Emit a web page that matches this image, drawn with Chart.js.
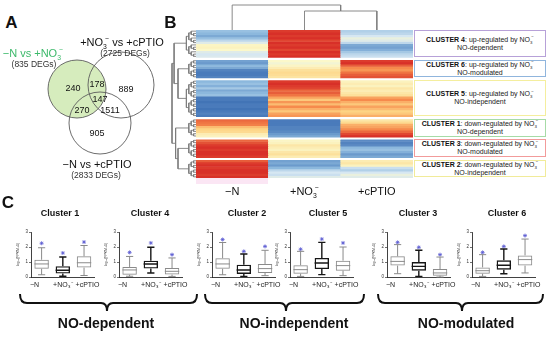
<!DOCTYPE html>
<html>
<head>
<meta charset="utf-8">
<script src="https://cdn.jsdelivr.net/npm/chart.js"></script>
<style>
  body { margin: 0; width: 550px; height: 338px; overflow: hidden; position: relative; background: #fff;
         font-family: "Liberation Sans", Arial, sans-serif; color: #111; }
  canvas { position: absolute; }
  .t { position: absolute; white-space: nowrap; line-height: 1; transform: translate(-50%, -50%); }
  sub, sup { font-size: 0.62em; line-height: 0; }
  sup { margin-left: -0.25em; }
  .note { position: absolute; box-sizing: border-box; border: 1.3px solid; background: #fff;
          display: flex; flex-direction: column; justify-content: center; align-items: center;
          font-size: 7px; line-height: 8px; white-space: nowrap; color: #222; }
  .note b { color: #111; }
</style>
</head>
<body>
<script>
// ---------- panel A : Venn ----------
const vennSets = ['−N vs +NO3', '+NO3 vs +cPTIO', '−N vs +cPTIO'];
const vennSetSizes = [835, 2725, 2833];
const vennCounts = [240, 178, 889, 147, 270, 1511, 905]; // A, AB, B, ABC, AC, BC, C

// ---------- panel B : heatmap, rows = [−N, +NO3, +cPTIO] z-scores ----------
const heatColumns = ['−N', '+NO₃⁻', '+cPTIO'];
const heatClusterOrder = [4, 6, 5, 1, 3, 2];
const heatC4 = [[-0.9,1.9,-0.7],[-1.0,2.0,-0.6],[-1.2,1.9,-0.4],[-0.9,2.0,-0.2],[-0.6,1.8,-0.3],[-0.3,2.0,-0.6],
                [0.05,1.9,-1.2],[0.1,2.0,-1.3],[0.0,1.8,-1.1],[-0.3,2.0,-0.8],[-0.4,1.9,-0.6],[-0.35,2.0,-0.5]];
const heatC6 = [[-1.3,0.0,1.9],[-1.4,-0.1,2.0],[-1.0,0.05,1.6],[-1.2,0.2,1.2],[-1.7,0.4,1.1],[-1.8,0.5,1.4],
                [-1.8,0.45,1.6],[-1.7,0.35,1.7]];
const heatC5 = [[-1.0,1.9,0.1],[-0.9,2.0,0.2],[-1.1,1.9,0.1],[-0.8,1.8,0.3],[-1.2,1.5,0.2],[-1.0,1.6,0.3],
                [-0.9,1.4,0.4],[-1.8,1.0,1.0],[-1.8,0.7,1.2],[-1.9,1.1,0.9],[-1.8,0.8,0.7],[-1.8,1.2,1.0],
                [-1.9,0.9,0.8],[-1.8,0.7,0.6],[-1.7,1.0,0.7],[-1.8,1.1,0.9]];
const heatC1 = [[1.5,-1.8,0.3],[1.4,-1.8,0.5],[1.3,-1.8,0.9],[0.8,-1.7,1.0],[0.6,-1.7,1.2],[0.5,-1.6,1.5],
                [0.2,-1.4,1.8],[0.1,-1.2,2.0]];
const heatC3 = [[1.5,0.05,-1.6],[1.7,0.1,-1.7],[1.9,0.3,-1.6],[2.0,0.2,-1.0],[1.9,0.1,-0.9],[2.0,0.3,-1.1],
                [2.0,0.4,-1.4],[1.9,0.2,-1.2]];
const heatC2 = [[1.6,-1.3,0.2],[1.9,-1.2,0.3],[2.0,-1.4,0.1],[1.9,-1.0,-0.5],[2.0,-0.6,-0.7],[2.0,-0.4,-0.4],
                [1.9,-0.5,-0.2],[2.0,-0.3,-0.3]];
const clusterNotes = { 4: ['up', 'NO-dependent'], 6: ['up', 'NO-modulated'], 5: ['up', 'NO-independent'],
                       1: ['down', 'NO-dependent'], 3: ['down', 'NO-modulated'], 2: ['down', 'NO-independent'] };
// dendrogram merge heights
const rowTree = { h: 8, kids: [{ h: 7.3, kids: [4, { h: 6, kids: [6, 5] }] }, { h: 6.8, kids: [1, { h: 6, kids: [3, 2] }] }] };
const colTree = { h: 2.5, kids: [0, { h: 1.9, kids: [1, 2] }] };

// ---------- panel C : box plots [low whisker, q1, median, q3, high whisker] ----------
const boxConditions = ['−N', '+NO₃⁻', '+cPTIO'];
const boxPanels = [1, 4, 2, 5, 3, 6];
const box1 = [[0.15,0.55,0.87,1.15,1.95],[0.05,0.23,0.45,0.72,1.33],[0.10,0.63,0.95,1.38,2.10]];
const box4 = [[0.05,0.15,0.47,0.67,1.37],[0.27,0.56,0.87,1.09,1.98],[0.04,0.16,0.38,0.60,1.27]];
const box2 = [[0.15,0.55,0.87,1.25,2.30],[0.04,0.20,0.47,0.82,1.53],[0.09,0.27,0.56,0.87,1.78]];
const box5 = [[0.04,0.22,0.49,0.78,1.71],[0.16,0.53,0.93,1.27,2.31],[0.09,0.42,0.76,1.09,2.00]];
const box3 = [[0.22,0.76,1.04,1.38,2.16],[0.04,0.42,0.71,1.00,1.78],[0.00,0.09,0.27,0.53,1.33]];
const box6 = [[0.04,0.22,0.42,0.64,1.49],[0.22,0.49,0.78,1.11,1.87],[0.27,0.76,1.16,1.44,2.53]];
const stars1 = [2.25, 1.60, 2.33];
const stars4 = [1.64, 2.27, 1.49];
const stars2 = [2.50, 1.71, 2.04];
const stars5 = [1.85, 2.53, 2.27];
const stars3 = [2.31, 1.98, 1.49];
const stars6 = [1.64, 2.04, 2.76];
const groupNames = ['NO-dependent', 'NO-independent', 'NO-modulated'];

// ---------------------------------------------------------------
Chart.defaults.animation = false;
Chart.defaults.responsive = false;
Chart.defaults.events = [];
Chart.defaults.layout.autoPadding = false;
Chart.defaults.plugins.legend.display = false;
Chart.defaults.plugins.tooltip.enabled = false;
Chart.defaults.font.family = '"Liberation Sans", Arial, sans-serif';

function mkCanvas(left, top, w, h) {
  const c = document.createElement('canvas');
  c.width = w; c.height = h;
  c.style.left = left + 'px'; c.style.top = top + 'px';
  document.body.appendChild(c);
  return c;
}
function txt(html, x, y, css) {
  const d = document.createElement('div');
  d.className = 't'; d.innerHTML = html;
  d.style.left = x + 'px'; d.style.top = y + 'px';
  if (css) d.style.cssText += css;
  document.body.appendChild(d);
  return d;
}
const NO3 = 'NO<sub>3</sub><sup>−</sup>';

// ---------- A ----------
txt('A', 11.5, 21.5, 'font-weight:bold;font-size:17px');
const vennLayout = [{ x: 77, y: 89, r: 29 }, { x: 121, y: 85, r: 33 }, { x: 100, y: 123, r: 31 }];
const vennLabelPos = [[73, 88], [97, 84], [126, 89], [100, 99], [82, 110], [110, 110], [97, 133]];
const venn = new Chart(mkCanvas(0, 0, 165, 185), {
  type: 'bubble',
  data: { datasets: vennSets.map((name, i) => ({
    label: name,
    data: [{ x: vennLayout[i].x, y: vennLayout[i].y, r: vennLayout[i].r }],
    backgroundColor: i === 0 ? '#d6ecbd' : 'rgba(0,0,0,0)',
    borderColor: '#5c5c5c', borderWidth: 0.9, order: i === 0 ? 1 : 0, clip: false
  })) },
  options: { layout: { padding: 0 },
    scales: { x: { display: false, min: 0, max: 165 }, y: { display: false, min: 0, max: 185, reverse: true } } }
});
vennCounts.forEach((n, i) => {
  txt(String(n), venn.scales.x.getPixelForValue(vennLabelPos[i][0]),
      venn.scales.y.getPixelForValue(vennLabelPos[i][1]), 'font-size:9px');
});
txt('−N vs +' + NO3, 33, 53, 'font-size:11px;color:#3cb96a');
txt('(' + vennSetSizes[0] + ' DEGs)', 34, 64, 'font-size:8.5px;color:#333');
txt('+' + NO3 + ' vs +cPTIO', 122, 42, 'font-size:11px');
txt('(' + vennSetSizes[1] + ' DEGs)', 125, 53, 'font-size:8.5px;color:#333');
txt('−N vs +cPTIO', 97, 164, 'font-size:11px');
txt('(' + vennSetSizes[2] + ' DEGs)', 96, 175, 'font-size:8.5px;color:#333');

// ---------- B ----------
txt('B', 170.5, 22, 'font-weight:bold;font-size:17px');
const heatStops = [[-2, [58, 108, 178]], [-1, [140, 184, 221]], [-0.4, [214, 231, 242]], [0, [251, 248, 202]],
                   [0.6, [253, 212, 132]], [1.2, [246, 138, 76]], [2, [216, 48, 40]]];
function zColor(z) {
  z = Math.max(-2, Math.min(2, z));
  for (let i = 1; i < heatStops.length; i++) {
    const [z1, c1] = heatStops[i], [z0, c0] = heatStops[i - 1];
    if (z <= z1) {
      const f = (z - z0) / (z1 - z0);
      return 'rgb(' + c0.map((v, k) => Math.round(v + (c1[k] - v) * f)).join(',') + ')';
    }
  }
}
const heatByCluster = { 4: heatC4, 6: heatC6, 5: heatC5, 1: heatC1, 3: heatC3, 2: heatC2 };
const GAP = 0.9;
const heatSets = [], spans = [];
let units = 0;
heatClusterOrder.forEach((c, gi) => {
  if (gi > 0) { heatSets.push({ data: [GAP, GAP, GAP], backgroundColor: '#ffffff' }); units += GAP; }
  spans.push({ cluster: c, start: units, n: heatByCluster[c].length });
  heatByCluster[c].forEach(r => { heatSets.push({ data: [1, 1, 1], backgroundColor: r.map(zColor) }); units += 1; });
});
const HX = 196, HY = 30, HW = 217, HH = 148;
const heat = new Chart(mkCanvas(HX, HY, HW, HH), {
  type: 'bar',
  data: { labels: heatColumns, datasets: heatSets.map(d => ({ ...d, borderWidth: 0, barPercentage: 1, categoryPercentage: 1 })) },
  options: { layout: { padding: 0 },
    scales: { x: { display: false, stacked: true }, y: { display: false, stacked: true, min: 0, max: units, reverse: true } } }
});
// pink strip under −N column
const pk = document.createElement('div');
pk.style.cssText = 'position:absolute;left:196px;top:178px;width:72px;height:6px;background:#fbe6f4';
document.body.appendChild(pk);
heatColumns.forEach((c, i) => {
  const lab = i === 1 ? '+' + NO3 : c;
  txt(lab, HX + heat.scales.x.getPixelForValue(i), 191, 'font-size:11px');
});

// dendrograms
function linkSets(links) {
  return links.map(pts => ({ data: pts, showLine: true, pointRadius: 0, borderColor: '#7d7d7d',
                             borderWidth: 0.9, fill: false, clip: false }));
}
const rowLinks = [];
function rowSub(start, n) {
  if (n === 1) return { y: start + 0.5, h: 0 };
  const a = Math.floor(n / 2);
  const l = rowSub(start, a), r = rowSub(start + a, n - a);
  const h = Math.ceil(Math.log2(n)) * 0.8;
  rowLinks.push([{ x: l.h, y: l.y }, { x: h, y: l.y }, { x: h, y: r.y }, { x: r.h, y: r.y }]);
  return { y: (l.y + r.y) / 2, h };
}
const groupNode = {};
spans.forEach(s => { groupNode[s.cluster] = rowSub(s.start, s.n); });
function rowUp(node) {
  if (typeof node === 'number') return groupNode[node];
  const [l, r] = node.kids.map(rowUp);
  rowLinks.push([{ x: l.h, y: l.y }, { x: node.h, y: l.y }, { x: node.h, y: r.y }, { x: r.h, y: r.y }]);
  return { y: (l.y + r.y) / 2, h: node.h };
}
rowUp(rowTree);
new Chart(mkCanvas(160, HY, 36, HH), {
  type: 'scatter',
  data: { datasets: linkSets(rowLinks) },
  options: { layout: { padding: 0 },
    scales: { x: { type: 'linear', display: false, min: 0, max: 12, reverse: true },
              y: { type: 'linear', display: false, min: 0, max: units, reverse: true } } }
});
const colLinks = [];
function colUp(node) {
  if (typeof node === 'number') return { x: node, h: 0 };
  const [l, r] = node.kids.map(colUp);
  colLinks.push([{ x: l.x, y: l.h }, { x: l.x, y: node.h }, { x: r.x, y: node.h }, { x: r.x, y: r.h }]);
  return { x: (l.x + r.x) / 2, h: node.h };
}
colUp(colTree);
new Chart(mkCanvas(HX, 0, HW, HY), {
  type: 'scatter',
  data: { datasets: linkSets(colLinks) },
  options: { layout: { padding: 0 },
    scales: { x: { type: 'linear', display: false, min: -0.5, max: 2.5 },
              y: { type: 'linear', display: false, min: 0, max: 3 } } }
});

// cluster notes
const noteColors = { 4: '#b7a1d8', 6: '#90b5dd', 5: '#f4ee9e', 1: '#a6dba6', 3: '#f29b9b', 2: '#f1eb9a' };
spans.forEach(s => {
  const y0 = heat.scales.y.getPixelForValue(s.start), y1 = heat.scales.y.getPixelForValue(s.start + s.n);
  const d = document.createElement('div');
  d.className = 'note';
  d.style.cssText += 'left:414px;width:132px;top:' + (HY + y0) + 'px;height:' + (y1 - y0 - 0.5) +
                     'px;border-color:' + noteColors[s.cluster];
  const [dir, kind] = clusterNotes[s.cluster];
  d.innerHTML = '<div><b>CLUSTER ' + s.cluster + '</b>: ' + dir + '-regulated by ' + NO3 + '</div><div>' + kind + '</div>';
  document.body.appendChild(d);
});

// ---------- C ----------
txt('C', 8, 202, 'font-weight:bold;font-size:17px');
const boxByCluster = { 1: box1, 4: box4, 2: box2, 5: box5, 3: box3, 6: box6 };
const starsByCluster = { 1: stars1, 4: stars4, 2: stars2, 5: stars5, 3: stars3, 6: stars6 };
const boxAxisX = [31, 119, 212, 290, 387, 472];
const boxTitleX = [60, 150, 247, 328, 418, 507];
const condColor = ['#8a8a8a', '#161616', '#8a8a8a'];
const condWidth = [1, 1.4, 1];
// em-space padding nudges outer labels apart, as in the original layout
const tickPad = ['\u2003\u2003', '', '\u2003'];

const whiskers = {
  id: 'whiskers',
  afterDatasetsDraw(chart) {
    const stats = chart.data.datasets[0].stats, meta = chart.getDatasetMeta(0), y = chart.scales.y, ctx = chart.ctx;
    stats.forEach((s, i) => {
      const x = meta.data[i].x, w = meta.data[i].width;
      ctx.save();
      ctx.strokeStyle = condColor[i]; ctx.lineWidth = condWidth[i];
      ctx.beginPath();
      ctx.moveTo(x, y.getPixelForValue(s[3])); ctx.lineTo(x, y.getPixelForValue(s[4]));
      ctx.moveTo(x, y.getPixelForValue(s[1])); ctx.lineTo(x, y.getPixelForValue(s[0]));
      ctx.moveTo(x - w * 0.25, y.getPixelForValue(s[4])); ctx.lineTo(x + w * 0.25, y.getPixelForValue(s[4]));
      ctx.moveTo(x - w * 0.25, y.getPixelForValue(s[0])); ctx.lineTo(x + w * 0.25, y.getPixelForValue(s[0]));
      ctx.moveTo(x - w / 2, y.getPixelForValue(s[2])); ctx.lineTo(x + w / 2, y.getPixelForValue(s[2]));
      ctx.stroke();
      ctx.restore();
    });
  }
};

boxPanels.forEach((c, i) => {
  const stats = boxByCluster[c];
  new Chart(mkCanvas(boxAxisX[i] - 15, 228, 88, 63), {
    type: 'bar',
    data: { labels: boxConditions, datasets: [
      { data: stats.map(s => [s[1], s[3]]), stats: stats, backgroundColor: 'rgba(255,255,255,0)',
        borderColor: condColor, borderWidth: condWidth, borderSkipped: false,
        barPercentage: 0.68, categoryPercentage: 1, order: 1 },
      { type: 'line', data: starsByCluster[c], showLine: false, pointStyle: 'star', pointRadius: 2,
        borderColor: '#5a5ad2', borderWidth: 0.8, order: 0 }
    ] },
    options: {
      layout: { padding: { top: 4, right: 3, left: 0, bottom: 0 } },
      scales: {
        x: { grid: { drawOnChartArea: false, drawTicks: false }, border: { color: '#111', width: 0.8 },
             ticks: { font: { size: 7 }, color: '#222', padding: 4, maxRotation: 0, autoSkip: false,
                      callback: (v, k) => k === 0 ? boxConditions[k] + tickPad[k] : tickPad[k] + boxConditions[k] },
             afterFit: s => { s.height = 14; } },
        y: { min: 0, max: 3, grid: { drawOnChartArea: false, tickLength: 2, color: '#111', lineWidth: 0.6 },
             border: { color: '#111', width: 0.8 },
             ticks: { stepSize: 1, font: { size: 4.5 }, color: '#333', padding: 1 },
             title: { display: true, text: 'log₁₀(FPKM+1)', font: { size: 3.5 }, color: '#333', padding: 0 },
             afterFit: s => { s.width = 15; } }
      }
    },
    plugins: [whiskers]
  });
  txt('Cluster ' + c, boxTitleX[i], 213, 'font-weight:bold;font-size:9px');
});

// braces + group names
const braces = [[20, 197, 107], [205, 364, 286], [378, 543, 462]];
const groupX = [106, 294, 466];
const svgNS = 'http://www.w3.org/2000/svg';
const svg = document.createElementNS(svgNS, 'svg');
svg.setAttribute('width', 550); svg.setAttribute('height', 338);
svg.style.cssText = 'position:absolute;left:0;top:0';
braces.forEach(([x0, x1, xm]) => {
  const y = 303;
  const p = document.createElementNS(svgNS, 'path');
  p.setAttribute('d', `M${x0},${y - 9} Q${x0},${y} ${x0 + 7},${y} L${xm - 6},${y} Q${xm},${y} ${xm},${y + 8} ` +
                      `Q${xm},${y} ${xm + 6},${y} L${x1 - 7},${y} Q${x1},${y} ${x1},${y - 9}`);
  p.setAttribute('fill', 'none'); p.setAttribute('stroke', '#111'); p.setAttribute('stroke-width', '2');
  svg.appendChild(p);
});
document.body.appendChild(svg);
groupNames.forEach((g, i) => txt(g, groupX[i], 323, 'font-weight:bold;font-size:14px'));
</script>
</body>
</html>
